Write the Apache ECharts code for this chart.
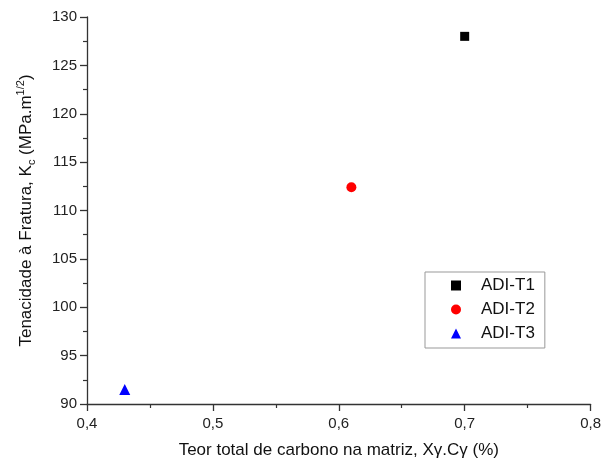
<!DOCTYPE html>
<html>
<head>
<meta charset="utf-8">
<script src="https://cdn.jsdelivr.net/npm/echarts@6/dist/echarts.min.js"></script>
<style>
  html, body { margin: 0; padding: 0; background: #fff; }
  #chart { width: 604px; height: 469px; }
</style>
</head>
<body>
<div id="chart"></div>
<script>
// dados
var seriesNames = ['ADI-T1', 'ADI-T2', 'ADI-T3'];
var carbono = [0.70, 0.61, 0.43];      // Xγ.Cγ (%)
var tenacidade = [128.0, 112.4, 91.5]; // Kc (MPa.m^1/2)
var symbols = ['rect', 'circle', 'triangle'];
var colors = ['#000000', '#ff0000', '#0000ff'];
var symbolSizes = [9, 10, 11];

var font = 'Liberation Sans, Arial, sans-serif';

var chart = echarts.init(document.getElementById('chart'));

var series = seriesNames.map(function (name, i) {
    return {
        name: name,
        type: 'scatter',
        symbol: symbols[i],
        symbolSize: symbolSizes[i],
        itemStyle: { color: colors[i], opacity: 1 },
        data: [[carbono[i], tenacidade[i]]]
    };
});

var axisCommon = {
    axisLine: { show: true, lineStyle: { color: '#333', width: 1.3 } },
    axisTick: { show: true, length: 7, lineStyle: { color: '#333', width: 1.3 } },
    minorTick: { show: true, splitNumber: 2, length: 4, lineStyle: { color: '#333', width: 1.2 } },
    splitLine: { show: false },
    axisLabel: { color: '#222', fontSize: 15, fontFamily: font }
};

var option = {
    backgroundColor: '#fff',
    animation: false,
    grid: { left: 87, right: 10, top: 17, bottom: 65 },
    legend: {
        orient: 'vertical',
        left: 425,
        top: 272,
        padding: [5, 10, 6, 26],
        itemWidth: 10,
        itemHeight: 10,
        itemGap: 7,
        borderColor: '#999',
        borderWidth: 1,
        textStyle: { color: '#111', fontSize: 17, fontFamily: font, padding: [0, 0, 0, 15] },
        data: seriesNames.map(function (n, i) {
            return { name: n, itemStyle: { color: colors[i], opacity: 1 } };
        })
    },
    xAxis: Object.assign({}, axisCommon, {
        type: 'value',
        min: 0.4,
        max: 0.8,
        interval: 0.1,
        name: 'Teor total de carbono na matriz, Xγ.Cγ (%)',
        nameLocation: 'middle',
        nameGap: 38,
        nameTextStyle: { color: '#111', fontSize: 17, fontFamily: font },
        axisLabel: Object.assign({}, axisCommon.axisLabel, {
            margin: 12,
            formatter: function (v) { return v.toFixed(1).replace('.', ','); }
        })
    }),
    yAxis: Object.assign({}, axisCommon, {
        type: 'value',
        min: 90,
        max: 130,
        interval: 5,
        name: 'Tenacidade à Fratura, K{sub|c} (MPa.m{sup|1/2})',
        nameLocation: 'middle',
        nameRotate: 90,
        nameGap: 50,
        nameTextStyle: {
            color: '#111', fontSize: 17, fontFamily: font, lineHeight: 22,
            rich: {
                sub: { fontSize: 11, fontFamily: font, color: '#111', verticalAlign: 'bottom', lineHeight: 22 },
                sup: { fontSize: 11, fontFamily: font, color: '#111', verticalAlign: 'top', lineHeight: 22 }
            }
        },
        axisLabel: Object.assign({}, axisCommon.axisLabel, { margin: 10 })
    }),
    series: series
};

chart.setOption(option);
</script>
</body>
</html>
